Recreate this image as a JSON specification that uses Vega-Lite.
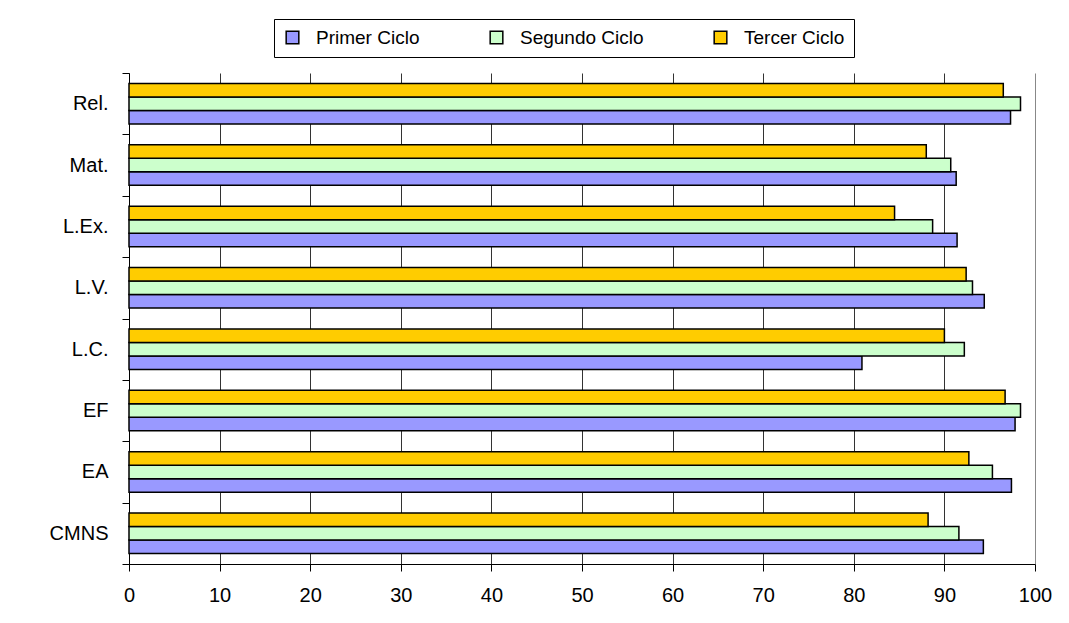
{
  "$schema": "https://vega.github.io/schema/vega-lite/v6.json",
  "autosize": "none",
  "width": 906,
  "height": 491,
  "padding": {"left": 129, "top": 73, "right": 34, "bottom": 59},
  "background": "white",
  "config": {
    "view": {"stroke": null},
    "font": "Liberation Sans"
  },
  "data": {
    "values": [
      {"asignatura": "Rel.", "ciclo": "Primer Ciclo", "valor": 97.3},
      {"asignatura": "Rel.", "ciclo": "Segundo Ciclo", "valor": 98.4},
      {"asignatura": "Rel.", "ciclo": "Tercer Ciclo", "valor": 96.5},
      {"asignatura": "Mat.", "ciclo": "Primer Ciclo", "valor": 91.3},
      {"asignatura": "Mat.", "ciclo": "Segundo Ciclo", "valor": 90.7},
      {"asignatura": "Mat.", "ciclo": "Tercer Ciclo", "valor": 88.0},
      {"asignatura": "L.Ex.", "ciclo": "Primer Ciclo", "valor": 91.4},
      {"asignatura": "L.Ex.", "ciclo": "Segundo Ciclo", "valor": 88.7},
      {"asignatura": "L.Ex.", "ciclo": "Tercer Ciclo", "valor": 84.5},
      {"asignatura": "L.V.", "ciclo": "Primer Ciclo", "valor": 94.4},
      {"asignatura": "L.V.", "ciclo": "Segundo Ciclo", "valor": 93.1},
      {"asignatura": "L.V.", "ciclo": "Tercer Ciclo", "valor": 92.4},
      {"asignatura": "L.C.", "ciclo": "Primer Ciclo", "valor": 80.9},
      {"asignatura": "L.C.", "ciclo": "Segundo Ciclo", "valor": 92.2},
      {"asignatura": "L.C.", "ciclo": "Tercer Ciclo", "valor": 90.0},
      {"asignatura": "EF", "ciclo": "Primer Ciclo", "valor": 97.8},
      {"asignatura": "EF", "ciclo": "Segundo Ciclo", "valor": 98.4},
      {"asignatura": "EF", "ciclo": "Tercer Ciclo", "valor": 96.7},
      {"asignatura": "EA", "ciclo": "Primer Ciclo", "valor": 97.4},
      {"asignatura": "EA", "ciclo": "Segundo Ciclo", "valor": 95.3},
      {"asignatura": "EA", "ciclo": "Tercer Ciclo", "valor": 92.7},
      {"asignatura": "CMNS", "ciclo": "Primer Ciclo", "valor": 94.3},
      {"asignatura": "CMNS", "ciclo": "Segundo Ciclo", "valor": 91.6},
      {"asignatura": "CMNS", "ciclo": "Tercer Ciclo", "valor": 88.2}
    ]
  },
  "mark": {"type": "bar", "stroke": "black", "strokeWidth": 1.5},
  "encoding": {
    "y": {
      "field": "asignatura",
      "type": "nominal",
      "sort": ["Rel.", "Mat.", "L.Ex.", "L.V.", "L.C.", "EF", "EA", "CMNS"],
      "scale": {"paddingInner": 0, "paddingOuter": 0},
      "axis": {
        "title": null,
        "tickBand": "extent",
        "domainColor": "black",
        "tickColor": "black",
        "tickSize": 7,
        "labelFontSize": 20,
        "labelColor": "black",
        "labelPadding": 14,
        "grid": false
      }
    },
    "yOffset": {
      "field": "ciclo",
      "type": "nominal",
      "sort": ["Tercer Ciclo", "Segundo Ciclo", "Primer Ciclo"],
      "scale": {"paddingInner": 0, "paddingOuter": 0.775}
    },
    "x": {
      "field": "valor",
      "type": "quantitative",
      "scale": {"domain": [0, 100], "nice": false},
      "axis": {
        "title": null,
        "values": [0, 10, 20, 30, 40, 50, 60, 70, 80, 90, 100],
        "grid": true,
        "gridColor": {"condition": {"test": "datum.value === 100", "value": "#888888"}, "value": "#333333"},
        "gridOpacity": 1,
        "domainColor": "black",
        "tickColor": "black",
        "tickSize": 7,
        "labelFontSize": 20,
        "labelColor": "black",
        "labelPadding": 14,
        "labelFlush": false
      }
    },
    "color": {
      "field": "ciclo",
      "type": "nominal",
      "sort": ["Primer Ciclo", "Segundo Ciclo", "Tercer Ciclo"],
      "scale": {
        "domain": ["Primer Ciclo", "Segundo Ciclo", "Tercer Ciclo"],
        "range": ["#9999FF", "#CCFFCC", "#FFCC00"]
      },
      "legend": {
        "title": null,
        "orient": "none",
        "legendX": 145,
        "legendY": -54,
        "direction": "horizontal",
        "strokeColor": "black",
        "fillColor": "white",
        "padding": 9,
        "symbolType": "square",
        "symbolSize": 160,
        "symbolStrokeColor": "black",
        "symbolStrokeWidth": 1.5,
        "symbolOpacity": 1,
        "labelFontSize": 19,
        "labelColor": "black",
        "labelOffset": 14,
        "columnPadding": 67,
        "gridAlign": "none"
      }
    }
  }
}
